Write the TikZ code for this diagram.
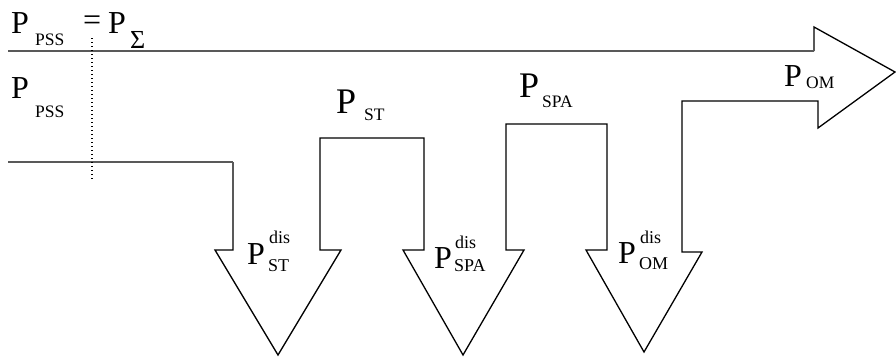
\documentclass[tikz,border=0pt]{standalone}
\usepackage{fontspec}
\setmainfont{Liberation Serif}
\begin{document}
\begin{tikzpicture}[x=1pt,y=-1pt,
  bigP/.style={inner sep=0pt,anchor=base west,font=\fontsize{32}{32}\selectfont},
  hugeP/.style={inner sep=0pt,anchor=base west,font=\fontsize{36}{36}\selectfont},
  subtxt/.style={inner sep=0pt,anchor=base west,font=\fontsize{17.5}{17.5}\selectfont},
  dsub/.style={inner sep=0pt,anchor=base west,font=\fontsize{18}{18}\selectfont},
  outline/.style={draw=black,line width=1.3pt,line join=miter},
  hline/.style={draw=black!65,line width=1.1pt}]
\useasboundingbox (0,0) rectangle (896,356);
% main flow outline
\draw[outline] (814,51) -- (814,27) -- (895,72) -- (818,128) -- (818,101)
  -- (682,101) -- (682,252) -- (702,252) -- (644,352) -- (586,250) -- (607,250)
  -- (607,124) -- (506,124) -- (506,250) -- (524,250) -- (463,355) -- (403,250)
  -- (424,250) -- (424,138) -- (320,138) -- (320,250) -- (341,250) -- (278,355)
  -- (215,250) -- (233,250) -- (233,162);
\draw[hline] (8,51) -- (814,51);
\draw[hline] (8,162) -- (233,162);
% dotted marker
\draw[black,line width=1.2pt,dash pattern=on 1.2pt off 2.8pt] (92,38) -- (92,180);
% labels
\node[bigP] (p1) at (11,33) {P};
\node[subtxt] (p1s) at (35,45) {PSS};
\node[bigP] (eq) at (83,30) {=};
\node[bigP] (p2) at (108,33) {P};
\node[inner sep=0pt,anchor=base west,font=\fontsize{26}{26}\selectfont] (p2s) at (130,48) {Σ};
\node[bigP] (p3) at (11,98) {P};
\node[subtxt] (p3s) at (35,117) {PSS};
\node[hugeP] (p4) at (336,113) {P};
\node[subtxt] (p4s) at (364,120) {ST};
\node[hugeP] (p5) at (519,97) {P};
\node[subtxt] (p5s) at (542,107) {SPA};
\node[bigP] (p6) at (784,86) {P};
\node[subtxt] (p6s) at (806,88) {OM};
\node[bigP] (d1) at (247,264) {P};
\node[dsub] (d1u) at (269,243) {dis};
\node[dsub] (d1s) at (268,271) {ST};
\node[bigP] (d2) at (434,268) {P};
\node[dsub] (d2u) at (455,248) {dis};
\node[dsub] (d2s) at (454,271) {SPA};
\node[bigP] (d3) at (618,263) {P};
\node[dsub] (d3u) at (640,243) {dis};
\node[dsub] (d3s) at (639,269) {OM};
\end{tikzpicture}
\end{document}
